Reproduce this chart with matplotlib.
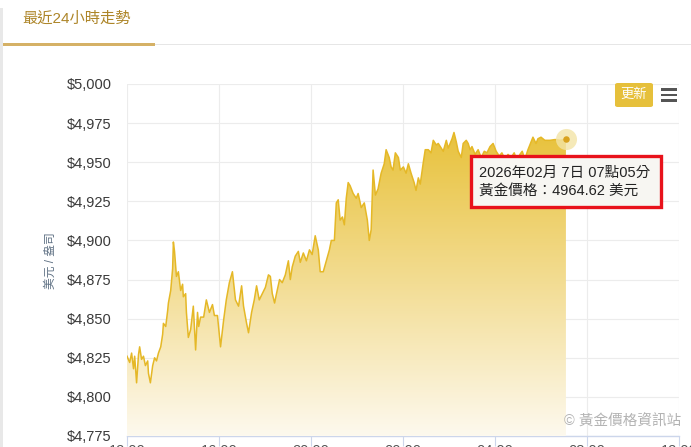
import numpy as np
import pandas as pd
import matplotlib
matplotlib.use("Agg")
import matplotlib.pyplot as plt
import matplotlib.dates as mdates
from matplotlib.colors import LinearSegmentedColormap
from matplotlib.patches import Rectangle, FancyBboxPatch

# minutes after 2026-02-06 12:00 (Taiwan time) and gold price in USD / oz
minutes = [0, 7, 12, 17, 20, 25, 30, 33, 38, 43, 48, 54, 56, 61, 67, 72, 77, 82, 88, 93,
           95, 101, 106, 108, 114, 119, 121, 124, 129, 134, 140, 145, 147, 153, 155, 160, 166, 171, 173, 179,
           184, 187, 192, 200, 207, 215, 223, 228, 236, 244, 252, 259, 267, 275, 283, 291, 299, 304, 312, 317,
           325, 332, 338, 345, 353, 361, 369, 374, 379, 385, 390, 398, 405, 413, 421, 426, 431, 439, 447, 452,
           460, 468, 476, 483, 491, 499, 504, 512, 520, 528, 533, 541, 546, 551, 556, 562, 567, 572, 577, 582,
           590, 598, 603, 611, 619, 627, 632, 637, 642, 648, 655, 663, 671, 676, 684, 689, 694, 700, 708, 713,
           721, 728, 734, 741, 749, 754, 760, 765, 773, 778, 786, 793, 799, 807, 812, 820, 825, 833, 838, 843,
           848, 853, 859, 864, 872, 877, 885, 890, 895, 900, 908, 916, 924, 932, 939, 947, 955, 963, 971, 978,
           986, 994, 1002, 1010, 1018, 1025, 1031, 1038, 1046, 1054, 1059, 1067, 1072, 1080, 1090, 1103, 1117, 1130, 1145]
prices = [4826, 4822, 4828, 4818, 4826, 4809, 4827, 4832, 4824, 4826, 4820, 4823, 4815, 4809, 4820, 4825, 4823, 4828, 4832, 4840,
          4847, 4845, 4855, 4860, 4868, 4882, 4899, 4893, 4877, 4880, 4868, 4872, 4864, 4866, 4854, 4838, 4843, 4854, 4858, 4830,
          4854, 4845, 4851, 4851, 4862, 4854, 4859, 4852, 4852, 4832, 4849, 4862, 4873, 4880, 4862, 4858, 4871, 4858, 4847, 4841,
          4854, 4862, 4871, 4862, 4866, 4870, 4878, 4877, 4866, 4860, 4866, 4875, 4873, 4878, 4887, 4875, 4883, 4890, 4893, 4886,
          4892, 4887, 4894, 4891, 4903, 4894, 4880, 4880, 4887, 4894, 4900, 4900, 4924, 4926, 4913, 4915, 4910, 4927, 4937, 4935,
          4930, 4927, 4930, 4921, 4924, 4913, 4900, 4907, 4945, 4929, 4933, 4943, 4949, 4958, 4953, 4947, 4945, 4956, 4953, 4945,
          4947, 4943, 4949, 4943, 4937, 4932, 4940, 4936, 4950, 4958, 4958, 4956, 4964, 4961, 4962, 4959, 4957, 4964, 4959, 4962,
          4965, 4969, 4963, 4957, 4953, 4962, 4964, 4962, 4958, 4960, 4955, 4958, 4953, 4957, 4956, 4960, 4962, 4957, 4954, 4956,
          4952, 4955, 4953, 4956, 4951, 4955, 4957, 4952, 4958, 4963, 4966, 4962, 4965, 4966, 4964, 4964, 4964.5, 4964, 4964.62]

y_ticks = [4775, 4800, 4825, 4850, 4875, 4900, 4925, 4950, 4975, 5000]
x_tick_hours = [0, 4, 8, 12, 16, 20, 24]

start = pd.Timestamp("2026-02-06 12:00")
times = start + pd.to_timedelta(minutes, unit="min")
tick_times = [start + pd.Timedelta(hours=h) for h in x_tick_hours]

W, H = 691, 447
cjk = ["Liberation Sans", "Noto Sans CJK TC"]
plt.rcParams["font.family"] = cjk

fig = plt.figure(figsize=(W / 100, H / 100), dpi=100)
fig.patch.set_facecolor("white")


def fx(px):
    return px / W


def fy(py):
    return 1 - py / H


ax = fig.add_axes([fx(127), fy(436), (679 - 127) / W, (436 - 84) / H])
ax.set_facecolor("white")

line_color = "#e5b827"
ax.plot(times, prices, color=line_color, lw=1.1, zorder=4)

poly = ax.fill_between(times, prices, y_ticks[0], color="none", lw=0)
cmap = LinearSegmentedColormap.from_list("gold", ["#fdf9ee", "#f3dd94", "#e8c23c"])
grad = np.linspace(0, 1, 256).reshape(-1, 1)
x0 = mdates.date2num(times[0])
x1 = mdates.date2num(times[-1])
im = ax.imshow(grad, extent=[x0, x1, y_ticks[0], max(prices)], origin="lower",
               aspect="auto", cmap=cmap, zorder=3)
im.set_clip_path(poly.get_paths()[0], transform=ax.transData)

# last point with hover halo
ax.scatter([times[-1]], [prices[-1]], s=230, color="#f3e4a6", alpha=0.8, zorder=5, lw=0)
ax.scatter([times[-1]], [prices[-1]], s=22, color="#d9a21e", zorder=6, lw=0)

ax.set_xlim(tick_times[0], tick_times[-1])
ax.set_ylim(y_ticks[0], y_ticks[-1])
ax.set_yticks(y_ticks)
ax.set_yticklabels(["${:,}".format(v) for v in y_ticks])
ax.set_xticks(tick_times)
ax.xaxis.set_major_formatter(mdates.DateFormatter("%H:%M"))

ax.grid(True, color="#ececec", lw=0.8, zorder=0)
ax.set_axisbelow(True)
for s in ["top", "right", "left"]:
    ax.spines[s].set_visible(False)
ax.spines["bottom"].set_color("#ccd6eb")
ax.spines["bottom"].set_linewidth(1)
ax.tick_params(axis="y", length=0, pad=11, labelsize=10.5, labelcolor="#3a3a3a")
ax.tick_params(axis="x", length=7.5, color="#ccd6eb", width=0.8, pad=-1.5,
               labelsize=10.5, labelcolor="#555555")

# y axis title
fig.text(fx(51), fy(261), "美元 / 盎司", rotation=90, ha="center", va="center",
         fontsize=8.5, color="#5f7184", family=cjk)

# tab header
fig.text(fx(22), fy(19), "最近24小時走勢", ha="left", va="center", fontsize=11,
         color="#ad8528", family=cjk)
fig.add_artist(Rectangle((fx(2), fy(46)), fx(153), 3 / H, transform=fig.transFigure,
                         color="#d5b166", lw=0))
fig.add_artist(Rectangle((fx(155), fy(45)), fx(536), 1 / H, transform=fig.transFigure,
                         color="#e6e6e6", lw=0))
fig.add_artist(Rectangle((0, 0), fx(2.5), fy(8), transform=fig.transFigure,
                         color="#e8e8e8", lw=0))

# update button and menu icon
fig.add_artist(FancyBboxPatch((fx(615), fy(107)), fx(38), 24 / H,
                              boxstyle="round,pad=0,rounding_size=0.004",
                              transform=fig.transFigure, fc="#e6c03b", ec="none"))
fig.text(fx(634), fy(95), "更新", ha="center", va="center", fontsize=9.5,
         color="white", family=cjk)
for yy in [88, 93.5, 99]:
    fig.add_artist(Rectangle((fx(661), fy(yy + 2.5)), fx(16), 2.5 / H,
                             transform=fig.transFigure, color="#555555", lw=0))

# tooltip
fig.add_artist(Rectangle((fx(471), fy(207)), fx(190), 51 / H, transform=fig.transFigure,
                         fc="#f7f6f2", ec="#e8121b", lw=2.4, zorder=10))
fig.text(fx(479), fy(173), "2026年02月 7日 07點05分", ha="left", va="center",
         fontsize=10.5, color="#222222", family=cjk, zorder=11)
fig.text(fx(479), fy(191), "黃金價格：4964.62 美元", ha="left", va="center",
         fontsize=10.5, color="#222222", family=cjk, zorder=11)

# watermark
fig.text(fx(681), fy(422), "© 黃金價格資訊站", ha="right", va="center",
         fontsize=10.5, color="#b3b3b3", family=cjk, zorder=12)

fig.savefig("out.png", dpi=100)
